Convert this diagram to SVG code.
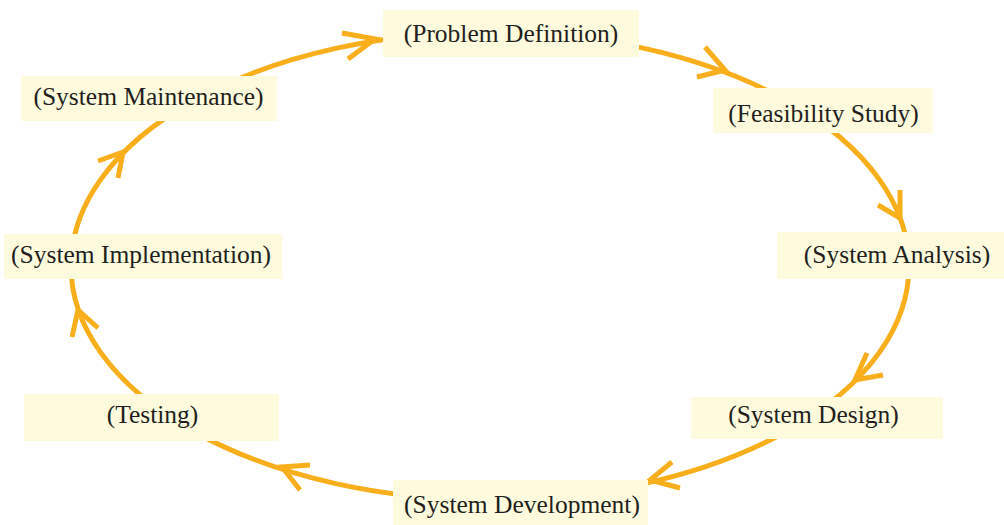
<svg xmlns="http://www.w3.org/2000/svg" width="1004" height="525" viewBox="0 0 1004 525">
<style>
.flow{fill:none;stroke:#F9AE1B;stroke-width:5}
.head{fill:none;stroke:#F9AE1B;stroke-width:5;stroke-linejoin:miter;stroke-linecap:butt}
.box{fill:#FEFADE}
.lbl{font-family:"Liberation Serif","Times New Roman",serif;font-size:25.5px;fill:#231F20;text-anchor:middle}
</style>
<rect width="1004" height="525" fill="#FFFFFF"/>
<g id="connectors">
<ellipse class="flow" cx="490" cy="266" rx="419" ry="234"/>
<polyline class="head" points="342,33 375,39 348,59"/>
<polyline class="head" points="705,47 725,70 697,77"/>
<polyline class="head" points="900,190 900,218 878,205"/>
<polyline class="head" points="867,353 855,380 883,375"/>
<polyline class="head" points="672,462 650,480 680,488"/>
<polyline class="head" points="310,465 282,467 300,490"/>
<polyline class="head" points="72,337 78,310 98,328"/>
<polyline class="head" points="98,161 123,152 118,178"/>
</g>
<g id="problem-definition"><rect class="box" x="383" y="10" width="256" height="47"/><text class="lbl" x="511" y="42">(Problem Definition)</text></g>
<g id="feasibility-study"><rect class="box" x="713" y="88" width="220" height="45"/><text class="lbl" x="823.5" y="122">(Feasibility Study)</text></g>
<g id="system-analysis"><rect class="box" x="777" y="232" width="227" height="47"/><text class="lbl" x="897" y="263">(System Analysis)</text></g>
<g id="system-design"><rect class="box" x="691" y="397" width="252" height="42"/><text class="lbl" x="813.5" y="423">(System Design)</text></g>
<g id="system-development"><rect class="box" x="393" y="480" width="255" height="45"/><text class="lbl" x="522" y="513">(System Development)</text></g>
<g id="testing"><rect class="box" x="24" y="394" width="255" height="47"/><text class="lbl" x="152.5" y="423">(Testing)</text></g>
<g id="system-implementation"><rect class="box" x="4" y="234" width="278" height="45"/><text class="lbl" x="141" y="263">(System Implementation)</text></g>
<g id="system-maintenance"><rect class="box" x="21" y="76" width="256" height="45"/><text class="lbl" x="148.5" y="105">(System Maintenance)</text></g>
</svg>
